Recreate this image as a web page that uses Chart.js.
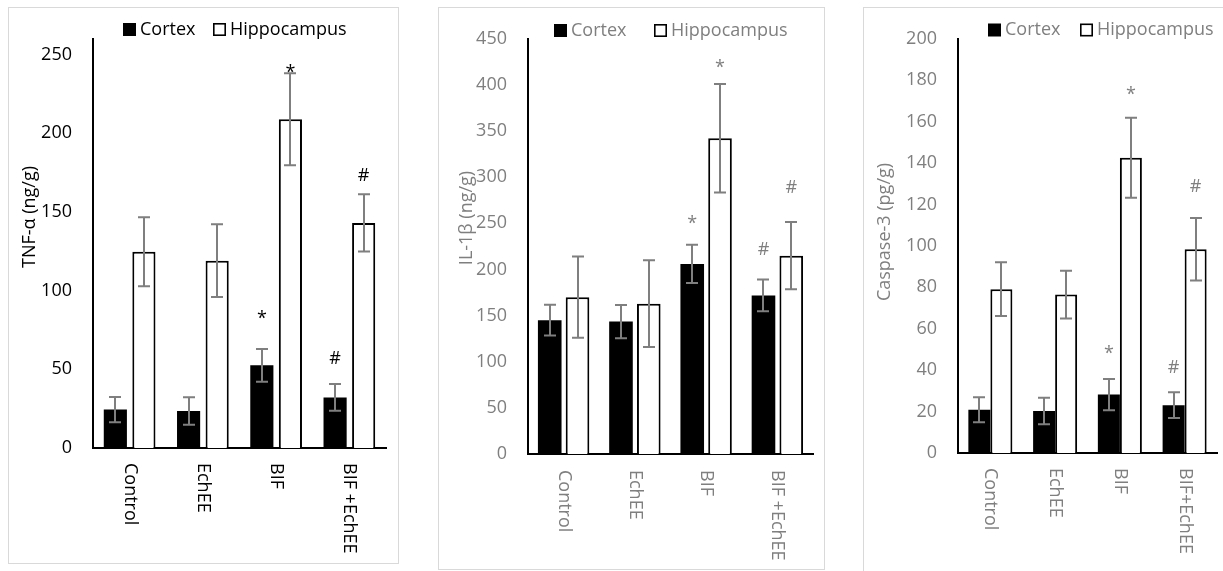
<!DOCTYPE html>
<html>
<head>
<meta charset="utf-8">
<script src="https://cdn.jsdelivr.net/npm/chart.js@4.4.1/dist/chart.umd.min.js"></script>
<style>
html,body{margin:0;padding:0;background:#fff;width:1223px;height:571px;overflow:hidden;}
.frame{position:absolute;border:1px solid #d9d9d9;box-sizing:border-box;}
canvas{position:absolute;display:block;}
</style>
</head>
<body>
<div class="frame" style="left:8px;top:7px;width:391px;height:557px"></div>
<div class="frame" style="left:438px;top:7px;width:387px;height:563px"></div>
<div class="frame" style="left:863px;top:7px;width:380px;height:590px"></div>
<canvas id="c1" width="390" height="556" style="left:8px;top:7px"></canvas>
<canvas id="c2" width="386" height="562" style="left:438px;top:7px"></canvas>
<canvas id="c3" width="370" height="574" style="left:863px;top:7px"></canvas>
<script>
// ---------- DATA ----------
const seriesNames = ['Cortex', 'Hippocampus'];

// Panel 1: TNF-alpha
const tnfCategories = ['Control', 'EchEE', 'BIF', 'BIF +EchEE'];
const tnfCortex = [24.4, 23.5, 52.5, 32.1];
const tnfCortexErr = [8, 8.7, 10.4, 8.5];
const tnfHippo = [124.7, 119, 208.9, 143];
const tnfHippoErr = [21.9, 23.1, 29.2, 18.2];
const tnfCortexMarks = ['', '', '*', '#'];
const tnfCortexMarkAt = [null, null, 85, 57.3];
const tnfHippoMarks = ['', '', '*', '#'];
const tnfHippoMarkAt = [null, null, 241, 173.8];
const tnfTicks = [0, 50, 100, 150, 200, 250];
const tnfMax = 260;

// Panel 2: IL-1beta
const ilCategories = ['Control', 'EchEE', 'BIF', 'BIF +EchEE'];
const ilCortex = [145, 143.5, 206, 171.9];
const ilCortexErr = [16.7, 18, 20.8, 17.2];
const ilHippo = [170, 162.9, 342.3, 215];
const ilHippoErr = [44, 47, 58.8, 36.4];
const ilCortexMarks = ['', '', '*', '#'];
const ilCortexMarkAt = [null, null, 254, 222.8];
const ilHippoMarks = ['', '', '*', '#'];
const ilHippoMarkAt = [null, null, 423, 289.6];
const ilTicks = [0, 50, 100, 150, 200, 250, 300, 350, 400, 450];
const ilMax = 450;

// Panel 3: Caspase-3
const casCategories = ['Control', 'EchEE', 'BIF', 'BIF+EchEE'];
const casCortex = [20.9, 20.3, 28.2, 23.1];
const casCortexErr = [6, 6.4, 7.5, 6.2];
const casHippo = [79.1, 76.5, 142.6, 98.4];
const casHippoErr = [13, 11.5, 19.3, 15.1];
const casCortexMarks = ['', '', '*', '#'];
const casCortexMarkAt = [null, null, 49.9, 42];
const casHippoMarks = ['', '', '*', '#'];
const casHippoMarkAt = [null, null, 175, 129.3];
const casTicks = [0, 20, 40, 60, 80, 100, 120, 140, 160, 180, 200];
const casMax = 200;

// ---------- RENDER ----------
const FONT = '"Open Sans", sans-serif';
const FS = 18;
const GRAY = '#7f7f7f';

function buildPanel(p) {
  const canvas = document.getElementById(p.id);
  const W = canvas.width, H = canvas.height;
  const plugin = {
    id: 'extras',
    afterDatasetsDraw(chart) {
      const ctx = chart.ctx, ys = chart.scales.y;
      ctx.save();
      // error bars
      ctx.strokeStyle = GRAY;
      ctx.lineWidth = 2;
      chart.data.datasets.forEach((ds, di) => {
        const meta = chart.getDatasetMeta(di);
        meta.data.forEach((bar, i) => {
          const v = ds.data[i], e = ds.errors[i];
          const x = Math.round(bar.x);
          const yt = ys.getPixelForValue(v + e), yb = ys.getPixelForValue(v - e);
          ctx.beginPath();
          ctx.moveTo(x, yt); ctx.lineTo(x, yb);
          ctx.moveTo(x - 6, yt); ctx.lineTo(x + 6, yt);
          ctx.moveTo(x - 6, yb); ctx.lineTo(x + 6, yb);
          ctx.stroke();
        });
      });
      // significance marks
      ctx.fillStyle = p.textColor;
      ctx.font = FS + 'px ' + FONT;
      ctx.textAlign = 'center';
      ctx.textBaseline = 'alphabetic';
      chart.data.datasets.forEach((ds, di) => {
        const meta = chart.getDatasetMeta(di);
        ds.marks.forEach((m, i) => {
          if (!m) return;
          const cy = ys.getPixelForValue(ds.markAt[i]);
          const mt = ctx.measureText(m);
          const off = (mt.actualBoundingBoxAscent - mt.actualBoundingBoxDescent) / 2;
          ctx.fillText(m, meta.data[i].x, cy + off);
        });
      });
      ctx.restore();
    },
    afterDraw(chart) {
      const ctx = chart.ctx, xs = chart.scales.x, area = chart.chartArea;
      ctx.save();
      ctx.fillStyle = p.textColor;
      ctx.font = FS + 'px ' + FONT;
      // category labels, rotated clockwise
      ctx.textAlign = 'left';
      ctx.textBaseline = 'middle';
      chart.data.labels.forEach((lab, i) => {
        const x = xs.getPixelForValue(i);
        ctx.save();
        ctx.translate(x, area.bottom + p.labelGap);
        ctx.rotate(Math.PI / 2);
        ctx.fillText(lab, 0, 0);
        ctx.restore();
      });
      // y axis title
      ctx.save();
      ctx.translate(p.titleX, p.titleY);
      ctx.rotate(-Math.PI / 2);
      ctx.textAlign = 'center';
      ctx.fillText(p.title, 0, 0);
      ctx.restore();
      // legend
      ctx.textAlign = 'left';
      ctx.textBaseline = 'middle';
      chart.data.datasets.forEach((ds, di) => {
        const bx = p.legendX[di], cy = p.legendY, s = 13;
        if (di === 0) {
          ctx.fillStyle = '#000';
          ctx.fillRect(bx, cy - s / 2, s, s);
        } else {
          ctx.fillStyle = '#fff';
          ctx.fillRect(bx, cy - s / 2, s, s);
          ctx.strokeStyle = '#000';
          ctx.lineWidth = 1.6;
          ctx.strokeRect(bx + 0.8, cy - s / 2 + 0.8, s - 1.6, s - 1.6);
        }
        ctx.fillStyle = p.textColor;
        ctx.fillText(ds.label, bx + s + 4, cy);
      });
      ctx.restore();
    }
  };

  return new Chart(canvas, {
    type: 'bar',
    data: {
      labels: p.categories,
      datasets: [
        {
          label: seriesNames[0], data: p.cortex, errors: p.cortexErr,
          marks: p.cortexMarks, markAt: p.cortexMarkAt,
          backgroundColor: '#000', borderColor: '#000', borderWidth: 0,
          categoryPercentage: p.catPct, barPercentage: p.barPct
        },
        {
          label: seriesNames[1], data: p.hippo, errors: p.hippoErr,
          marks: p.hippoMarks, markAt: p.hippoMarkAt,
          backgroundColor: '#fff', borderColor: '#000', borderWidth: 2,
          categoryPercentage: p.catPct, barPercentage: p.barPct
        }
      ]
    },
    options: {
      responsive: false,
      animation: false,
      events: [],
      layout: { padding: { top: p.area.t, right: W - p.area.r, left: 0, bottom: 0 } },
      plugins: { legend: { display: false }, tooltip: { enabled: false } },
      scales: {
        x: {
          grid: { display: false, drawTicks: false },
          border: { display: true, color: '#000', width: 2 },
          ticks: { display: false },
          afterFit(scale) { scale.height = H - p.area.b; }
        },
        y: {
          min: 0, max: p.max,
          grid: { display: false, drawTicks: false },
          border: { display: true, color: '#000', width: 2 },
          ticks: { padding: 21, color: p.textColor, font: { family: FONT, size: FS } },
          afterBuildTicks(scale) { scale.ticks = p.ticks.map(v => ({ value: v })); },
          afterFit(scale) { scale.width = p.area.l; }
        }
      }
    },
    plugins: [plugin]
  });
}

buildPanel({
  id: 'c1', categories: tnfCategories,
  cortex: tnfCortex, cortexErr: tnfCortexErr, hippo: tnfHippo, hippoErr: tnfHippoErr,
  cortexMarks: tnfCortexMarks, cortexMarkAt: tnfCortexMarkAt,
  hippoMarks: tnfHippoMarks, hippoMarkAt: tnfHippoMarkAt,
  ticks: tnfTicks, max: tnfMax,
  area: { l: 85, t: 28, r: 378, b: 441 },
  catPct: 0.78, barPct: 0.81,
  textColor: '#000', title: 'TNF-α (ng/g)', titleX: 22, titleY: 210,
  labelGap: 15, legendX: [115, 205], legendY: 22.5
});

buildPanel({
  id: 'c2', categories: ilCategories,
  cortex: ilCortex, cortexErr: ilCortexErr, hippo: ilHippo, hippoErr: ilHippoErr,
  cortexMarks: ilCortexMarks, cortexMarkAt: ilCortexMarkAt,
  hippoMarks: ilHippoMarks, hippoMarkAt: ilHippoMarkAt,
  ticks: ilTicks, max: ilMax,
  area: { l: 90, t: 29, r: 375, b: 447 },
  catPct: 0.78, barPct: 0.85,
  textColor: GRAY, title: 'IL-1β (ng/g)', titleX: 29, titleY: 211,
  labelGap: 16, legendX: [116, 216], legendY: 23.5
});

buildPanel({
  id: 'c3', categories: casCategories,
  cortex: casCortex, cortexErr: casCortexErr, hippo: casHippo, hippoErr: casHippoErr,
  cortexMarks: casCortexMarks, cortexMarkAt: casCortexMarkAt,
  hippoMarks: casHippoMarks, hippoMarkAt: casHippoMarkAt,
  ticks: casTicks, max: casMax,
  area: { l: 95, t: 13, r: 354, b: 446 },
  catPct: 0.68, barPct: 1.0,
  textColor: GRAY, title: 'Caspase-3 (pg/g)', titleX: 22, titleY: 225,
  labelGap: 15, legendX: [125, 217], legendY: 23
});
</script>
</body>
</html>
